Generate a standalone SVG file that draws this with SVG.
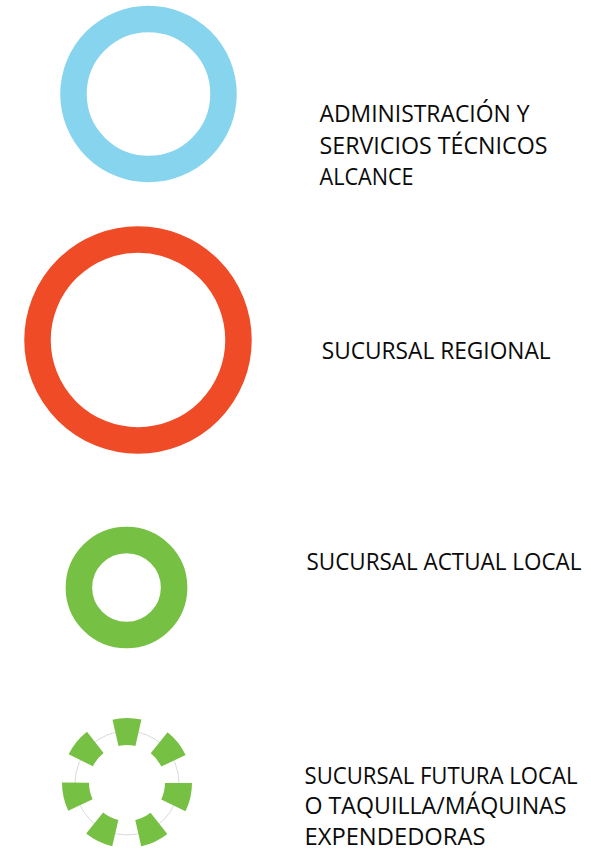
<svg xmlns="http://www.w3.org/2000/svg" width="591" height="851" viewBox="0 0 591 851">
<style>
.ring{fill:none;stroke-width:26.5}
.lbl{font-family:"Open Sans","Liberation Sans",sans-serif;font-size:23.5px;fill:#0a0a0a}
</style>
<rect width="591" height="851" fill="#fff"/>
<g id="admin">
<circle class="ring" cx="148.5" cy="94" r="75" stroke="#87D4EF"/>
<text class="lbl" x="319.5" y="121.7" textLength="210" lengthAdjust="spacingAndGlyphs">ADMINISTRACIÓN Y</text>
<text class="lbl" x="319.5" y="154" textLength="228" lengthAdjust="spacingAndGlyphs">SERVICIOS TÉCNICOS</text>
<text class="lbl" x="319.5" y="184.5" textLength="94" lengthAdjust="spacingAndGlyphs">ALCANCE</text>
</g>
<g id="regional">
<circle class="ring" cx="138" cy="340" r="100.5" stroke="#EF4B26"/>
<text class="lbl" x="321.7" y="359" textLength="229" lengthAdjust="spacingAndGlyphs">SUCURSAL REGIONAL</text>
</g>
<g id="actual">
<circle class="ring" cx="126.5" cy="587.5" r="47.6" stroke-width="27" stroke="#76C043"/>
<text class="lbl" x="306.5" y="570" textLength="275" lengthAdjust="spacingAndGlyphs">SUCURSAL ACTUAL LOCAL</text>
</g>
<g id="futura">
<circle cx="127" cy="783" r="52" fill="none" stroke="#cfcfcf" stroke-width="0.8"/>
<circle cx="127" cy="783" r="51.5" fill="none" stroke="#76C043" stroke-width="27" stroke-dasharray="23.1 23.13" transform="rotate(-102.9 127 783)"/>
<text class="lbl" x="304.5" y="783.5" textLength="273" lengthAdjust="spacingAndGlyphs">SUCURSAL FUTURA LOCAL</text>
<text class="lbl" x="304.5" y="814" textLength="262" lengthAdjust="spacingAndGlyphs">O TAQUILLA/MÁQUINAS</text>
<text class="lbl" x="304.5" y="844.5" textLength="181" lengthAdjust="spacingAndGlyphs">EXPENDEDORAS</text>
</g>
</svg>
